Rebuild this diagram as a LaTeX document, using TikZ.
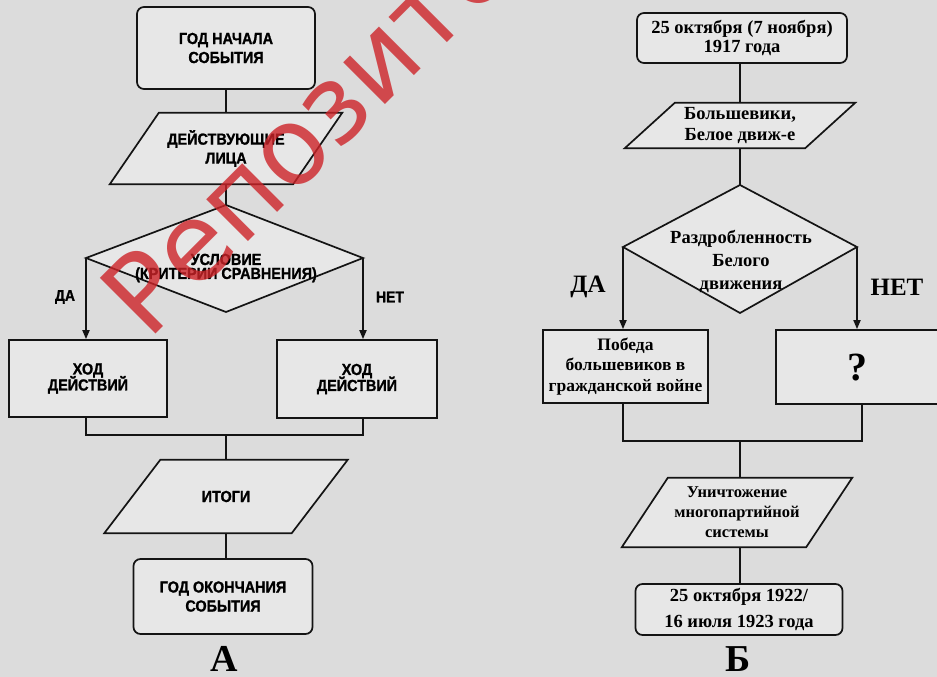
\documentclass[tikz,border=0pt]{standalone}
\usepackage{fontspec}
\setmainfont{Liberation Serif}
\newfontfamily\asans[FakeStretch=0.9,BoldFeatures={FakeBold=1.2}]{Liberation Sans}
\newfontfamily\wmfont{DejaVu Sans}
\usetikzlibrary{arrows.meta,calc}
\pgfdeclarelayer{bg}
\pgfsetlayers{bg,main}
\definecolor{paper}{RGB}{220,220,220}
\definecolor{boxfill}{RGB}{231,231,231}
\definecolor{ink}{RGB}{20,20,20}
\definecolor{wmred}{RGB}{205,35,40}
\begin{document}
\begin{tikzpicture}[x=1pt,y=-1pt,
  line/.style={draw=ink,line width=1.7pt},
  arr/.style={draw=ink,line width=1.7pt,-{Triangle[length=9pt,width=7pt]}},
  rbox/.style={draw=ink,line width=1.7pt,fill=boxfill,rounded corners=7pt,inner sep=0pt,align=center},
  sbox/.style={draw=ink,line width=1.7pt,fill=boxfill,inner sep=0pt,align=center},
  txt/.style={inner sep=0pt,align=center},
  afont/.style={font=\asans\bfseries\fontsize{16}{19}\selectfont},
  bfont/.style={font=\bfseries\fontsize{18.5}{21}\selectfont},
  bigser/.style={font=\bfseries\fontsize{25}{27}\selectfont},
]
\useasboundingbox (0,0) rectangle (937,677);
\begin{pgfonlayer}{bg}
\fill[paper] (0,0) rectangle (937,677);
\end{pgfonlayer}
\clip (0,0) rectangle (937,677);

% ---------------- Diagram A ----------------
\node[rbox,afont,minimum width=178pt,minimum height=82pt] (a1) at (226,48) {ГОД НАЧАЛА\\СОБЫТИЯ};
\node[txt,afont,minimum width=183pt,minimum height=71pt] (pa1) at (226,148.5) {ДЕЙСТВУЮЩИЕ\\ЛИЦА};
\coordinate (dAn) at (226,205);
\coordinate (dAw) at (86,258);
\coordinate (dAe) at (363,258);
\coordinate (dAs) at (226,312);
\node[txt,font=\asans\bfseries\fontsize{16}{14}\selectfont] (dAt) at (226,268) {УСЛОВИЕ\\(КРИТЕРИИ СРАВНЕНИЯ)};
\node[sbox,afont,minimum width=158pt,minimum height=77pt] (bL) at (88,378.5) {ХОД\\[-3pt]ДЕЙСТВИЙ};
\node[sbox,afont,minimum width=160pt,minimum height=78pt] (bR) at (357,379) {ХОД\\[-3pt]ДЕЙСТВИЙ};
\coordinate (jA) at (226,435);
\node[txt,afont,minimum width=187pt,minimum height=73pt] (pa2) at (226,496.5) {ИТОГИ};
\node[rbox,afont,minimum width=179pt,minimum height=75pt] (a2) at (223,596.5) {ГОД ОКОНЧАНИЯ\\СОБЫТИЯ};
\node[txt,font=\asans\bfseries\fontsize{15.5}{17}\selectfont] (daA) at (65,297) {ДА};
\node[txt,font=\asans\bfseries\fontsize{15.5}{17}\selectfont] (netA) at (390,297) {НЕТ};
\node[txt,font=\bfseries\fontsize{38}{40}\selectfont,anchor=base] (lblA) at (224,671) {А};

\begin{pgfonlayer}{bg}
\draw[line,fill=boxfill] ($(pa1.north west)+(24.5,0)$) -- ($(pa1.north east)+(24.5,0)$)
  -- ($(pa1.south east)+(-24.5,0)$) -- ($(pa1.south west)+(-24.5,0)$) -- cycle;
\draw[line,fill=boxfill] (dAn) -- (dAe) -- (dAs) -- (dAw) -- cycle;
\draw[line,fill=boxfill] ($(pa2.north west)+(28,0)$) -- ($(pa2.north east)+(28,0)$)
  -- ($(pa2.south east)+(-28,0)$) -- ($(pa2.south west)+(-28,0)$) -- cycle;
\end{pgfonlayer}

\draw[line] (a1.south) -- (pa1.north);
\draw[line] (pa1.south) -- (dAn);
\draw[arr] (dAw) -- (dAw |- bL.north);
\draw[arr] (dAe) -- (dAe |- bR.north);
\draw[line] (dAw |- bL.south) -- (dAw |- jA) -- (dAe |- jA) -- (dAe |- bR.south);
\draw[line] (jA) -- (pa2.north);
\draw[line] (pa2.south) -- (pa2.south |- a2.north);

% ---------------- Diagram B ----------------
\node[rbox,font=\bfseries\fontsize{18.5}{19.5}\selectfont,minimum width=210pt,minimum height=50pt] (b1) at (742,38) {25 октября (7 ноября)\\1917 года};
\node[txt,bfont,minimum width=180pt,minimum height=45pt] (pb1) at (740,125.5) {Большевики,\\Белое движ-е};
\coordinate (dBn) at (740,185);
\coordinate (dBw) at (623,247);
\coordinate (dBe) at (857,247);
\coordinate (dBs) at (740,313);
\node[txt,font=\bfseries\fontsize{18.5}{23}\selectfont] (dBt) at (741,261) {Раздробленность\\Белого\\движения};
\node[sbox,font=\bfseries\fontsize{17.5}{20.5}\selectfont,minimum width=165pt,minimum height=73pt] (bBL) at (625.5,366.5) {Победа\\большевиков в\\гражданской войне};
\node[sbox,minimum width=172pt,minimum height=74pt] (bBR) at (862,367) {};
\node[txt,font=\bfseries\fontsize{40}{42}\selectfont] (qB) at (857,368) {?};
\coordinate (jB) at (740,441);
\node[txt,font=\bfseries\fontsize{16.5}{20}\selectfont,minimum width=184pt,minimum height=69pt] (pb2) at (737,512.5) {Уничтожение\\многопартийной\\системы};
\node[rbox,font=\bfseries\fontsize{18.5}{26}\selectfont,minimum width=207pt,minimum height=51pt] (b2) at (739,609.5) {25 октября 1922/\\16 июля 1923 года};
\node[txt,bigser] (daB) at (588,287) {ДА};
\node[txt,bigser] (netB) at (897,287) {НЕТ};
\node[txt,font=\bfseries\fontsize{38}{40}\selectfont,anchor=base] (lblB) at (738,671) {Б};

\begin{pgfonlayer}{bg}
\draw[line,fill=boxfill] ($(pb1.north west)+(25,0)$) -- ($(pb1.north east)+(25,0)$)
  -- ($(pb1.south east)+(-25,0)$) -- ($(pb1.south west)+(-25,0)$) -- cycle;
\draw[line,fill=boxfill] (dBn) -- (dBe) -- (dBs) -- (dBw) -- cycle;
\draw[line,fill=boxfill] ($(pb2.north west)+(23,0)$) -- ($(pb2.north east)+(23,0)$)
  -- ($(pb2.south east)+(-23,0)$) -- ($(pb2.south west)+(-23,0)$) -- cycle;
\end{pgfonlayer}

\draw[line] (b1.south -| dBn) -- (pb1.north -| dBn);
\draw[line] (pb1.south -| dBn) -- (dBn);
\draw[arr] (dBw) -- (dBw |- bBL.north);
\draw[arr] (dBe) -- (dBe |- bBR.north);
\draw[line] (dBw |- bBL.south) -- (dBw |- jB) -- (bBR.south |- jB) -- (bBR.south);
\draw[line] (jB) -- (jB |- pb2.north);
\draw[line] (jB |- pb2.south) -- (jB |- b2.north);

% ---------------- watermark ----------------
\node[txt,anchor=base west,rotate=45,text=wmred,text opacity=0.8,font=\wmfont\fontsize{108}{110}\selectfont] (wm) at (148,342) {Репозиторий};
\end{tikzpicture}
\end{document}
